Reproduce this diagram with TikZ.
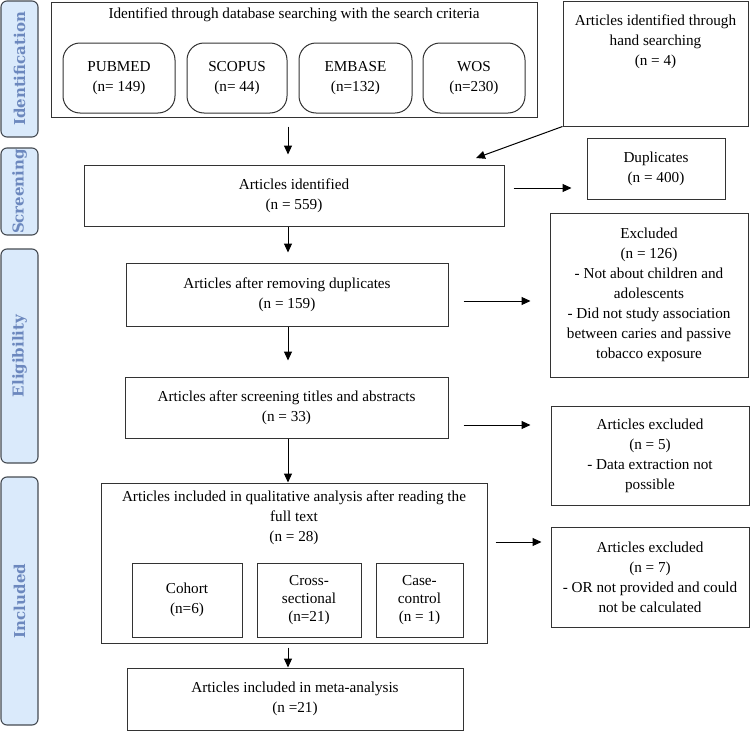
\documentclass[tikz,border=0pt]{standalone}
\usepackage{fontspec}
\setmainfont{Liberation Serif}
\newfontfamily\tabfont{DejaVu Serif}
\usetikzlibrary{arrows.meta}
\definecolor{tabfill}{HTML}{DAEAFB}
\definecolor{tabtext}{HTML}{6C88BE}
\definecolor{tabline}{HTML}{454B52}
\definecolor{boxline}{HTML}{333333}
\begin{document}
\begin{tikzpicture}[x=1pt,y=-1pt,
  box/.style={draw=boxline, line width=1pt, inner sep=0pt, align=center,
    font=\fontsize{15.2}{20}\selectfont},
  dbbox/.style={box, rounded corners=17pt},
  txt/.style={inner sep=0pt, align=center, font=\fontsize{15.2}{20}\selectfont},
  tab/.style={draw=tabline, fill=tabfill, line width=1.1pt, rounded corners=6pt,
    rotate=90, minimum height=37pt, inner sep=0pt, text=tabtext,
    font=\tabfont\bfseries\fontsize{15}{18}\selectfont},
  arr/.style={draw=black, line width=1pt, -{Triangle[length=9pt,width=8pt]}}
]
\useasboundingbox (0,0) rectangle (750,731);

% phase tabs
\node[tab, minimum width=136pt] (tid) at (19.5,69) {Identification};
\node[tab, minimum width=87pt] (tsc) at (19.5,191.5) {Screening};
\node[tab, minimum width=214pt] (tel) at (19.5,356) {Eligibility};
\node[tab, minimum width=248pt] (tin) at (19.5,601) {Included};

% identification
\node[box, minimum width=486pt, minimum height=115pt] (top) at (294,59.5) {};
\node[txt] (toptext) at (294,15) {Identified through database searching with the search criteria};
\node[dbbox, minimum width=112pt, minimum height=70pt] (pubmed) at (119,78) {PUBMED\\(n= 149)};
\node[dbbox, minimum width=100pt, minimum height=70pt] (scopus) at (237,78) {SCOPUS\\(n= 44)};
\node[dbbox, minimum width=113pt, minimum height=70pt] (embase) at (355.5,78) {EMBASE\\(n=132)};
\node[dbbox, minimum width=102pt, minimum height=70pt] (wos) at (474,78) {WOS\\(n=230)};

\node[box, minimum width=185pt, minimum height=125pt] (hand) at (655.5,63.5) {};
\node[txt] (handtext) at (655.5,42) {Articles identified through\\hand searching\\(n = 4)};

% screening
\node[box, minimum width=420pt, minimum height=61pt] (ident) at (294,195.5) {Articles identified\\(n = 559)};
\node[box, minimum width=138pt, minimum height=61pt] (dup) at (656,168.5) {Duplicates\\(n = 400)};

% eligibility
\node[box, minimum width=322pt, minimum height=63pt] (remdup) at (287,294.5) {Articles after removing duplicates\\(n = 159)};
\node[box, minimum width=198pt, minimum height=164pt] (excl) at (649,295) {Excluded\\(n = 126)\\- Not about children and\\adolescents\\- Did not study association\\between caries and passive\\tobacco exposure};
\node[box, minimum width=323pt, minimum height=61pt] (screen) at (286.5,407.5) {Articles after screening titles and abstracts\\(n = 33)};
\node[box, minimum width=198pt, minimum height=99pt] (exclfive) at (650,455.5) {Articles excluded\\(n = 5)\\- Data extraction not\\possible};

% included
\node[box, minimum width=386pt, minimum height=160pt] (qual) at (294,563) {};
\node[txt] (qualtext) at (294,518) {Articles included in qualitative analysis after reading the\\full text\\(n = 28)};
\node[box, minimum width=110pt, minimum height=74pt, text height=30pt] (cohort) at (187,600) {Cohort\\(n=6)};
\node[box, minimum width=104pt, minimum height=74pt, font=\fontsize{15.2}{18}\selectfont] (cross) at (309,600) {Cross-\\sectional\\(n=21)};
\node[box, minimum width=87pt, minimum height=74pt, font=\fontsize{15.2}{18}\selectfont] (case) at (419.5,600) {Case-\\control\\(n = 1)};
\node[box, minimum width=198pt, minimum height=100pt] (exclseven) at (650,577) {Articles excluded\\(n = 7)\\- OR not provided and could\\not be calculated};
\node[box, minimum width=336pt, minimum height=62pt] (meta) at (295,699) {Articles included in meta-analysis\\(n =21)};

% connector helpers
\coordinate (spine) at (288,0);
\coordinate (rowdup) at (0,188);
\coordinate (rowrem) at (0,301);
\coordinate (rowscr) at (0,425);
\coordinate (rowqual) at (0,542);
\coordinate (handtip) at (476,158);

% vertical flow
\draw[arr, shorten <=9pt, shorten >=10pt] (top.south -| spine) -- (ident.north -| spine);
\draw[arr, shorten >=10pt] (ident.south -| spine) -- (remdup.north -| spine);
\draw[arr, shorten >=16pt] (remdup.south -| spine) -- (screen.north -| spine);
\draw[arr] (screen.south -| spine) -- (qual.north -| spine);
\draw[arr, shorten <=4pt] (qual.south -| spine) -- (meta.north -| spine);

% side arrows
\draw[arr] (hand.south west) -- (handtip);
\draw[arr, shorten <=9pt, shorten >=15pt] (ident.east |- rowdup) -- (dup.west |- rowdup);
\draw[arr, shorten <=15pt, shorten >=19pt] (remdup.east |- rowrem) -- (excl.west |- rowrem);
\draw[arr, shorten <=15pt, shorten >=20pt] (screen.east |- rowscr) -- (exclfive.west |- rowscr);
\draw[arr, shorten <=8pt, shorten >=9pt] (qual.east |- rowqual) -- (exclseven.west |- rowqual);
\end{tikzpicture}
\end{document}
